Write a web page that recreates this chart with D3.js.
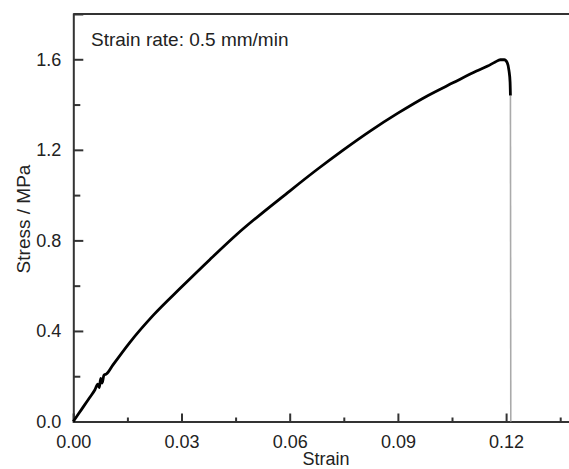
<!DOCTYPE html>
<html>
<head>
<meta charset="utf-8">
<script src="https://cdn.jsdelivr.net/npm/d3@7"></script>
<style>
  body { margin: 0; background: #fff; }
  svg { font-family: "Liberation Sans", Arial, sans-serif; }
</style>
</head>
<body>
<script>
// stress-strain data
var strain = [0, 0.0015, 0.003, 0.0045, 0.006, 0.0068, 0.0072, 0.0076, 0.0080, 0.0085, 0.0092,
    0.0110, 0.0157, 0.0222, 0.030, 0.0379, 0.0453, 0.060, 0.0675, 0.0749, 0.0823, 0.090,
    0.098, 0.1054, 0.1118, 0.1149, 0.1170, 0.1184, 0.1195, 0.1203, 0.1208, 0.1211, 0.1212]
var stress = [0, 0.035, 0.07, 0.105, 0.14, 0.165, 0.15, 0.19, 0.17, 0.205, 0.21,
    0.25, 0.35, 0.47, 0.594, 0.716, 0.826, 1.018, 1.112, 1.200, 1.283, 1.362,
    1.437, 1.497, 1.548, 1.570, 1.588, 1.598, 1.598, 1.585, 1.55, 1.50, 1.44]
// fracture drop
var dropStrain = [0.1212, 0.1213]
var dropStress = [1.44, 0]

var xMajor = [0, 0.03, 0.06, 0.09, 0.12]
var xMinor = [0.015, 0.045, 0.075, 0.105, 0.135]
var yMajor = [0, 0.4, 0.8, 1.2, 1.6]
var yMinor = [0.2, 0.6, 1.0, 1.4]

var annotation = "Strain rate: 0.5 mm/min"

var W = 569, H = 469
var margin = { top: 14, left: 73.3, bottom: 47.5 }

var svg = d3.select("body").append("svg")
    .attr("width", W)
    .attr("height", H)

var x = d3.scaleLinear().domain([0, 0.14]).range([margin.left, margin.left + 0.14 / 0.03 * 108.2])
var y = d3.scaleLinear().domain([0, 1.8]).range([H - margin.bottom, margin.top])

var axisColor = "#333"

// x axis (ticks inward)
svg.append("g")
    .attr("transform", "translate(0," + y(0) + ")")
    .call(d3.axisBottom(x).tickValues(xMajor).tickSize(-8).tickPadding(14)
        .tickFormat(d3.format(".2f")))
    .call(function (g) {
        g.select(".domain").attr("stroke", axisColor).attr("stroke-width", 2)
        g.selectAll(".tick line").attr("stroke", axisColor).attr("stroke-width", 2)
        g.selectAll("text").attr("font-size", 18).attr("fill", "#222")
    })
svg.append("g")
    .attr("transform", "translate(0," + y(0) + ")")
    .call(d3.axisBottom(x).tickValues(xMinor).tickSize(-4).tickFormat(""))
    .call(function (g) {
        g.select(".domain").remove()
        g.selectAll(".tick line").attr("stroke", axisColor).attr("stroke-width", 2)
    })

// y axis
svg.append("g")
    .attr("transform", "translate(" + x(0) + ",0)")
    .call(d3.axisLeft(y).tickValues(yMajor).tickSize(-10).tickPadding(12)
        .tickFormat(d3.format(".1f")))
    .call(function (g) {
        g.select(".domain").attr("stroke", axisColor).attr("stroke-width", 2)
        g.selectAll(".tick line").attr("stroke", axisColor).attr("stroke-width", 2)
        g.selectAll("text").attr("font-size", 18).attr("fill", "#222")
    })
svg.append("g")
    .attr("transform", "translate(" + x(0) + ",0)")
    .call(d3.axisLeft(y).tickValues(yMinor).tickSize(-7).tickFormat(""))
    .call(function (g) {
        g.select(".domain").remove()
        g.selectAll(".tick line").attr("stroke", axisColor).attr("stroke-width", 2)
    })

// top frame line
svg.append("line")
    .attr("x1", x(0)).attr("x2", W)
    .attr("y1", y(1.8)).attr("y2", y(1.8))
    .attr("stroke", axisColor).attr("stroke-width", 2)

// axis titles
svg.append("text")
    .attr("x", 326).attr("y", 465)
    .attr("text-anchor", "middle")
    .attr("font-size", 18).attr("fill", "#222")
    .text("Strain")
svg.append("text")
    .attr("transform", "translate(30,219) rotate(-90)")
    .attr("text-anchor", "middle")
    .attr("font-size", 19).attr("fill", "#222")
    .text("Stress / MPa")

// annotation
svg.append("text")
    .attr("x", 91).attr("y", 46)
    .attr("font-size", 19).attr("fill", "#222")
    .text(annotation)

var line = d3.line()
    .x(function (d) { return x(d[0]) })
    .y(function (d) { return y(d[1]) })

var mainData = strain.map(function (s, i) { return [s, stress[i]] })
var dropData = dropStrain.map(function (s, i) { return [s, dropStress[i]] })

svg.append("path")
    .datum(dropData)
    .attr("fill", "none")
    .attr("stroke", "#aaa")
    .attr("stroke-width", 1.6)
    .attr("d", line)

svg.append("path")
    .datum(mainData)
    .attr("fill", "none")
    .attr("stroke", "#000")
    .attr("stroke-width", 2.8)
    .attr("stroke-linejoin", "round")
    .attr("d", line.curve(d3.curveMonotoneX))
</script>
</body>
</html>
